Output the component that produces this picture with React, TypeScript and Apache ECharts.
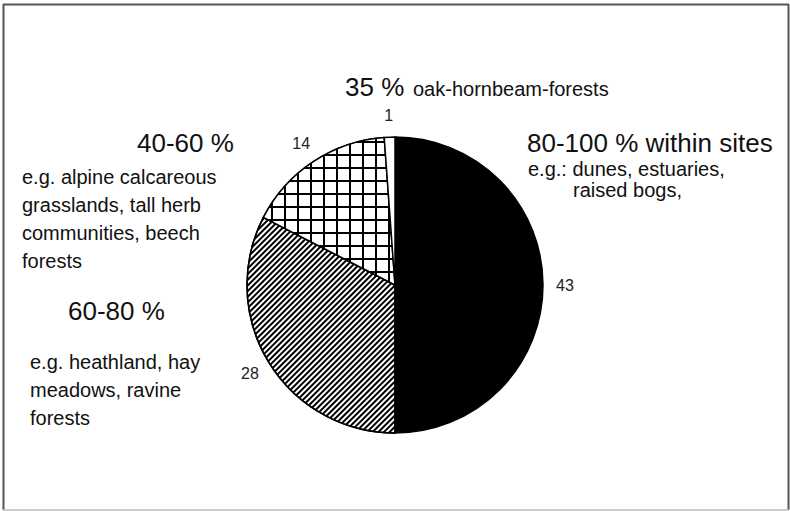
import React, { useEffect, useRef } from 'react';
import * as echarts from 'echarts';

// Data
const sliceNames = ['80-100 %', '60-80 %', '40-60 %', '35 %'];
const sliceValues = [43, 28, 14, 1];

const FONT = '"Liberation Sans", Arial, sans-serif';

export default function App() {
  const ref = useRef<HTMLDivElement>(null);
  useEffect(() => {
    if (!ref.current) return;
    const chart = echarts.init(ref.current, undefined, { renderer: 'svg' });

    const styles = [
      { color: '#000000', borderColor: '#000', borderWidth: 1.5 },
      {
        color: '#ffffff',
        borderColor: '#000',
        borderWidth: 1.5,
        decal: {
          symbol: 'rect',
          symbolSize: 1,
          color: '#000000',
          dashArrayX: [1, 0],
          dashArrayY: [1.6, 1.6],
          rotation: -Math.PI / 4,
        },
      },
      {
        color: '#000000',
        borderColor: '#000',
        borderWidth: 1.5,
        decal: {
          symbol: 'rect',
          symbolSize: 1,
          color: '#ffffff',
          dashArrayX: [10.5, 2],
          dashArrayY: [10.5, 2],
          rotation: 0,
        },
      },
      { color: '#ffffff', borderColor: '#000', borderWidth: 1.5 },
    ];

    const pieData = sliceNames.map((n, i) => ({ name: n, value: sliceValues[i], itemStyle: styles[i] }));
    const labelData = sliceNames.map((n, i) => ({ name: n, value: sliceValues[i] }));

    const txt = (x: number, y: number, text: string, fontSize: number, extra: any = {}) => ({
      type: 'text',
      x,
      y,
      silent: true,
      style: {
        text,
        fontFamily: FONT,
        fontSize,
        fill: '#111',
        textAlign: 'left',
        verticalAlign: 'middle',
        ...extra,
      },
    });

    chart.setOption({
      animation: false,
      backgroundColor: '#ffffff',
      series: [
        {
          type: 'pie',
          center: [395, 285],
          radius: 148,
          startAngle: 90,
          clockwise: true,
          silent: true,
          label: { show: false },
          labelLine: { show: false },
          emphasis: { disabled: true },
          data: pieData,
        },
        {
          type: 'pie',
          center: [395, 285],
          radius: [156, 178],
          startAngle: 90,
          clockwise: true,
          silent: true,
          itemStyle: { color: 'rgba(0,0,0,0)', borderWidth: 0 },
          label: {
            show: true,
            position: 'inside',
            formatter: '{c}',
            fontFamily: FONT,
            fontSize: 16,
            color: '#222',
            textBorderWidth: 0,
            textBorderColor: 'transparent',
          },
          labelLine: { show: false },
          emphasis: { disabled: true },
          data: labelData,
        },
      ],
      graphic: [
        { type: 'line', shape: { x1: 3.5, y1: 4, x2: 3.5, y2: 510 }, style: { stroke: '#555', lineWidth: 2 }, silent: true },
        { type: 'line', shape: { x1: 3, y1: 4.5, x2: 789, y2: 4.5 }, style: { stroke: '#555', lineWidth: 2 }, silent: true },
        { type: 'line', shape: { x1: 788.5, y1: 4, x2: 788.5, y2: 510 }, style: { stroke: '#555', lineWidth: 2 }, silent: true },
        { type: 'line', shape: { x1: 3, y1: 510, x2: 789, y2: 510 }, style: { stroke: '#bbb', lineWidth: 1.5 }, silent: true },
        txt(345, 87, '35 %', 26),
        txt(413, 89, 'oak-hornbeam-forests', 20),
        txt(137, 143, '40-60 %', 26),
        txt(22, 163, 'e.g. alpine calcareous\ngrasslands, tall herb\ncommunities, beech\nforests', 20, { verticalAlign: 'top', lineHeight: 28 }),
        txt(68, 311, '60-80 %', 26),
        txt(30, 348, 'e.g. heathland, hay\nmeadows, ravine\nforests', 20, { verticalAlign: 'top', lineHeight: 28 }),
        txt(527, 143, '80-100 % within sites', 26),
        txt(528, 169, 'e.g.: dunes, estuaries,', 20),
        txt(573, 190, 'raised bogs,', 20),
      ],
    });
    return () => chart.dispose();
  }, []);
  return <div ref={ref} style={{ position: 'absolute', left: 0, top: 0, width: 790, height: 511 }} />;
}
